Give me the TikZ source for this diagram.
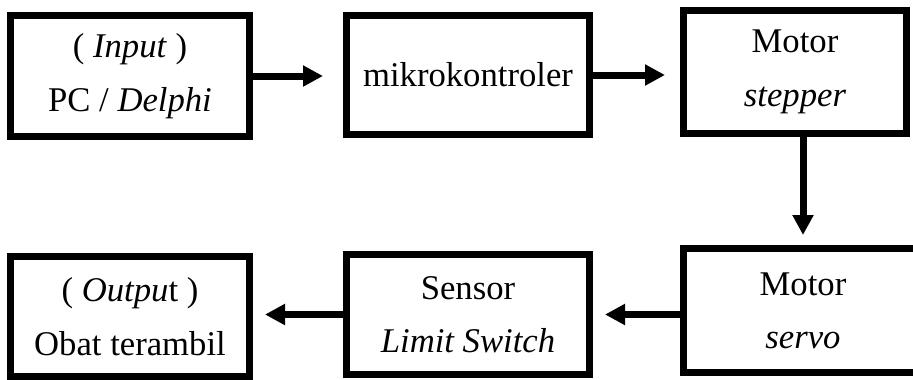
\documentclass[tikz,border=0pt]{standalone}
\usepackage{fontspec}
\setmainfont{Liberation Serif}
\usepackage{tikz}
\usetikzlibrary{arrows.meta, positioning}

\tikzset{
    blok/.style={draw, line width=5.25pt, align=center, inner sep=0pt,
        font=\fontsize{26}{40}\selectfont},
    panah/.style={->, line width=5.25pt}
}

\begin{document}
\begin{tikzpicture}[>={Triangle[length=15pt,width=15pt]}, x=0.75pt, y=-0.75pt]
            \clip (0,0) rectangle (913,379);
            
            % 1. Baris atas
            \node[blok, minimum width=179.25pt, minimum height=90.75pt] (input) at (130,76)
                {( \textit{Input} )\\PC / \textit{Delphi}};
            \node[blok, minimum width=182.25pt, minimum height=89.25pt] (mikro) at (468,75)
                {mikrokontroler};
            \node[blok, minimum width=167.25pt, minimum height=92.25pt] (stepper) at (795,72)
                {Motor\\\textit{stepper}};
            
            % 2. Baris bawah
            \node[blok, minimum width=179.25pt, minimum height=93pt] (servo) at (803,310.5)
                {Motor\\\textit{servo}};
            \node[blok, minimum width=182.25pt, minimum height=90pt] (sensor) at (468,314.5)
                {Sensor\\\textit{Limit Switch}};
            \node[blok, minimum width=179.25pt, minimum height=90pt] (output) at (130,316.5)
                {( \textit{Outpu}t )\\Obat terambil};
            
            % 3. Panah
            \draw[panah, shorten >=15pt] (input.east) -- (mikro.west |- input.east);
            \draw[panah, shorten >=11.25pt] (mikro.east) -- (stepper.west |- mikro.east);
            \draw[panah, shorten >=7.5pt] (servo.north |- stepper.south) -- (servo.north);
            \draw[panah, shorten >=9pt] (servo.west |- sensor.east) -- (sensor.east);
            \draw[panah, shorten >=9pt] (sensor.west) -- (output.east |- sensor.west);
        \end{tikzpicture}
\end{document}
